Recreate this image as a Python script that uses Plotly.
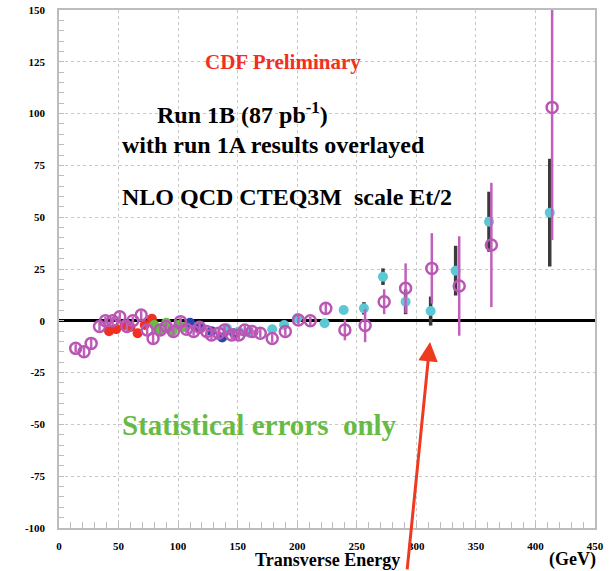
import plotly.graph_objects as go

# Run 1B (magenta open circles)
x_1b = [14, 21, 27, 34, 39, 45, 51, 57, 62, 69, 74, 79, 85, 90, 96, 102, 107, 113, 118, 124,
        128, 134, 139, 145, 151, 156, 162, 169, 179, 190, 201, 211, 224, 240, 257, 273, 291,
        313, 336, 363, 414]
y_1b = [-13.3, -14.9, -10.9, -2.8, 0, 0, 2, -2.8, 0, 2.8, -4.4, -8.5, -4.4, -2.8, -5.2, -0.4,
        -4.1, -5.2, -3.1, -5.2, -6.9, -6, -4.4, -6.9, -6.9, -4.4, -5.2, -6, -8.5, -5.2, 0.4, 0,
        6, -4.4, -2.3, 9.2, 15.7, 25.3, 16.8, 36.6, 103]
e_1b = [2, 3, 3, 2, 2, 2, 2, 2, 2, 2, 2, 3, 2, 2, 2, 2, 2, 2, 2, 2, 2, 2, 2, 2, 2, 2, 2, 2, 2,
        2, 2, 2, 3, 5, 8, 6, 12, 17, 24, 30, 64]

# Run 1A overlays
x_red = [42, 48, 55, 60, 66, 72, 78]
y_red = [-5, -4, -2, -3, -6, -2, 1]
x_green = [80, 85, 90, 95, 100, 105]
y_green = [-2, -5, -1, -5, -2, -3]
x_blue = [110, 118, 128, 137, 147]
y_blue = [-1, -3.5, -5, -8, -6]
x_cyan = [141, 151, 160, 179, 189, 200, 223, 239, 256, 272, 291, 312, 333, 361, 412]
y_cyan = [-3.6, -5.2, -5.7, -4.1, -2, 1.2, -1.2, 5.2, 6, 21.3, 9.2, 4.7, 24.2, 47.8, 52.2]
e_cyan = [1, 1, 1, 1, 1, 1, 1, 1.5, 3, 4, 6, 7, 12, 14.5, 26]

x_ticks = [0, 50, 100, 150, 200, 250, 300, 350, 400, 450]
y_ticks = [-100, -75, -50, -25, 0, 25, 50, 75, 100, 125, 150]

SERIF = "Liberation Serif, Times New Roman, serif"

fig = go.Figure()

def small(x, y, color):
    fig.add_trace(go.Scatter(
        x=x, y=y, mode="markers",
        marker=dict(symbol="circle", size=10, color=color),
        error_y=dict(type="constant", value=1, color="#333333", thickness=2.5, width=0),
        showlegend=False))

small(x_red, y_red, "#f03020")
small(x_green, y_green, "#60c040")
small(x_blue, y_blue, "#2545b0")

fig.add_trace(go.Scatter(
    x=x_cyan, y=y_cyan, mode="markers",
    marker=dict(symbol="circle", size=10, color="#5cc8d6"),
    error_y=dict(type="data", array=e_cyan, color="#3a3a3a", thickness=3.5, width=0),
    showlegend=False))

fig.add_trace(go.Scatter(
    x=x_1b, y=y_1b, mode="markers",
    marker=dict(symbol="circle-open", size=11, color="#b956b4", line=dict(width=2.5, color="#b956b4")),
    error_y=dict(type="data", array=e_1b, color="#c060bb", thickness=2.5, width=0),
    showlegend=False))

tickfont = dict(family=SERIF, size=11, color="black", weight="bold")

fig.update_xaxes(
    range=[0, 450], tickvals=x_ticks, ticktext=[str(v) for v in x_ticks],
    showgrid=True, gridcolor="#c8c8c8", griddash="dot", gridwidth=1,
    showline=True, linecolor="#bdbdbd", linewidth=1.5, mirror=True,
    ticks="inside", ticklen=6, tickcolor="#bdbdbd",
    minor=dict(dtick=10, tick0=0, ticks="inside", ticklen=6, tickcolor="#bdbdbd", showgrid=False),
    zeroline=False, tickfont=tickfont, ticklabelstandoff=7, automargin=False)
fig.update_yaxes(
    range=[-100, 150], tickvals=y_ticks, ticktext=[str(v) for v in y_ticks],
    showgrid=True, gridcolor="#c8c8c8", griddash="dot", gridwidth=1,
    showline=True, linecolor="#bdbdbd", linewidth=1.5, mirror=True,
    ticks="inside", ticklen=5, tickcolor="#bdbdbd",
    minor=dict(dtick=5, tick0=0, ticks="inside", ticklen=5, tickcolor="#bdbdbd", showgrid=False),
    zeroline=True, zerolinecolor="black", zerolinewidth=2.5, tickfont=tickfont,
    ticklabelstandoff=10, automargin=False)

def txt(text, x, y, size, color="black", xanchor="left"):
    fig.add_annotation(text=text, x=x, y=y, xref="x", yref="y", showarrow=False,
                       xanchor=xanchor, yanchor="middle",
                       font=dict(family=SERIF, size=size, color=color, weight="bold"))

txt("CDF Preliminary", 188, 124.9, 21, "#f03020", "center")
txt("Run 1B (87 pb<sup>-1</sup>)", 80.6, 100.3, 24)
txt("with run 1A results overlayed", 51.2, 84.8, 24)
txt("NLO QCD CTEQ3M  scale Et/2", 51.2, 59.7, 24)
txt("Statistical errors  only", 51.2, -50.3, 29, "#66bb44")

axis_font = dict(family=SERIF, size=18, color="black", weight="bold")
fig.add_annotation(text="Transverse Energy", x=0.5, y=-0.085, xref="paper", yref="paper",
                   showarrow=False, xanchor="center", yanchor="bottom", font=axis_font)
fig.add_annotation(text="(GeV)", x=1.0, y=-0.085, xref="paper", yref="paper", showarrow=False,
                   xanchor="right", yanchor="bottom", xshift=3, font=axis_font)

# red arrow
fig.add_annotation(text="", x=311.5, y=-10.2, xref="x", yref="y", showarrow=True,
                   ax=-23, ay=229, arrowcolor="#f03a20", arrowwidth=3, arrowhead=2, arrowsize=1.3)

fig.update_layout(
    width=613, height=571, margin=dict(l=59, r=18, t=10, b=43),
    paper_bgcolor="white", plot_bgcolor="white", showlegend=False)

fig.write_html("out.html")
